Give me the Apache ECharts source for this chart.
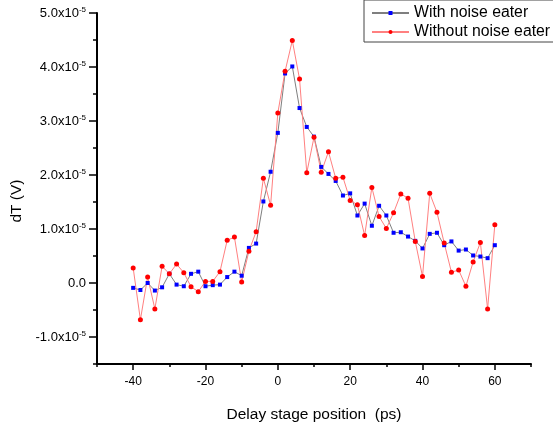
<!DOCTYPE html>
<html>
<head>
<meta charset="utf-8">
<script src="https://cdn.jsdelivr.net/npm/echarts@6/dist/echarts.min.js"></script>
<style>
html,body{margin:0;padding:0;background:#fff;}
#chart{width:553px;height:423px;}
</style>
</head>
<body>
<div id="chart"></div>
<script>
const delayPs = [-40,-38,-36,-34,-32,-30,-28,-26,-24,-22,-20,-18,-16,-14,-12,-10,-8,-6,-4,-2,0,2,4,6,8,10,12,14,16,18,20,22,24,26,28,30,32,34,36,38,40,42,44,46,48,50,52,54,56,58,60];
const withNoiseEater = [-0.09e-5,-0.13e-5,0.00e-5,-0.14e-5,-0.08e-5,0.17e-5,-0.03e-5,-0.06e-5,0.17e-5,0.21e-5,-0.06e-5,-0.04e-5,-0.03e-5,0.11e-5,0.21e-5,0.135e-5,0.65e-5,0.73e-5,1.51e-5,2.06e-5,2.78e-5,3.88e-5,4.01e-5,3.24e-5,2.89e-5,2.71e-5,2.15e-5,2.02e-5,1.89e-5,1.62e-5,1.66e-5,1.25e-5,1.47e-5,1.06e-5,1.43e-5,1.25e-5,0.93e-5,0.94e-5,0.86e-5,0.78e-5,0.64e-5,0.91e-5,0.93e-5,0.70e-5,0.77e-5,0.60e-5,0.62e-5,0.51e-5,0.49e-5,0.46e-5,0.70e-5];
const withoutNoiseEater = [0.28e-5,-0.68e-5,0.11e-5,-0.48e-5,0.31e-5,0.17e-5,0.35e-5,0.19e-5,-0.07e-5,-0.16e-5,0.03e-5,0.03e-5,0.21e-5,0.79e-5,0.85e-5,0.02e-5,0.59e-5,0.95e-5,1.94e-5,1.44e-5,3.15e-5,3.92e-5,4.49e-5,3.78e-5,2.04e-5,2.70e-5,2.05e-5,2.43e-5,1.94e-5,1.96e-5,1.53e-5,1.45e-5,0.88e-5,1.77e-5,1.23e-5,1.01e-5,1.30e-5,1.65e-5,1.57e-5,0.77e-5,0.12e-5,1.66e-5,1.31e-5,0.74e-5,0.20e-5,0.24e-5,-0.06e-5,0.39e-5,0.75e-5,-0.48e-5,1.08e-5];
const xTickLabels = [-40,-20,0,20,40,60];
const yTickLabels = [-1e-5,0,1e-5,2e-5,3e-5,4e-5,5e-5];
const seriesNames = ['With noise eater','Without noise eater'];

const FONT = 'Liberation Sans, Arial, sans-serif';
const chart = echarts.init(document.getElementById('chart'), null, {renderer:'canvas'});

function pairs(xs, ys){ return xs.map((x,i)=>[x, ys[i]]); }

function yFmt(v){
  const n = Math.round(v/1e-6)/10;
  if (Math.abs(n) < 1e-9) return '{a|0.0}';
  return '{a|' + n.toFixed(1) + 'x10}{s|-5}';
}

const axisLineStyle = {color:'#000', width:2};
const tickStyle = {color:'#000', width:1.5};

chart.setOption({
  animation:false,
  backgroundColor:'#fff',
  grid:{left:97, right:22, top:13, bottom:59, containLabel:false, outerBoundsMode:'none'},
  legend:{
    orient:'vertical', left:364, top:0,
    padding:[5,20,2,7], itemGap:3,
    itemWidth:37, itemHeight:5,
    borderColor:'#444', borderWidth:1,
    textStyle:{fontFamily:FONT, fontSize:15.8, color:'#000'},
    data:seriesNames
  },
  xAxis:[
    {type:'value', min:-50, max:70, interval:10, position:'bottom',
     axisLine:{onZero:false, lineStyle:axisLineStyle},
     axisTick:{length:3, lineStyle:tickStyle},
     axisLabel:{show:false}, splitLine:{show:false},
     name:'Delay stage position  (ps)', nameLocation:'middle', nameGap:43,
     nameTextStyle:{fontFamily:FONT, fontSize:15.5, color:'#000'}},
    {type:'value', min:-50, max:70, position:'bottom',
     axisLine:{show:false, onZero:false},
     axisTick:{length:6, customValues:xTickLabels, lineStyle:tickStyle},
     axisLabel:{customValues:xTickLabels, fontFamily:FONT, fontSize:12, color:'#000', margin:12},
     splitLine:{show:false}}
  ],
  yAxis:[
    {type:'value', min:-1.5e-5, max:5e-5, interval:0.5e-5, position:'left',
     axisLine:{show:true, onZero:false, lineStyle:axisLineStyle},
     axisTick:{show:true, length:4, lineStyle:tickStyle},
     axisLabel:{show:false}, splitLine:{show:false}},
    {type:'value', min:-1.5e-5, max:5e-5, position:'left',
     axisLine:{show:false, onZero:false},
     axisTick:{show:true, length:8, customValues:yTickLabels, lineStyle:tickStyle},
     axisLabel:{customValues:yTickLabels, margin:11, formatter:yFmt,
       rich:{a:{fontFamily:FONT, fontSize:13, color:'#000'},
             s:{fontFamily:FONT, fontSize:8, color:'#000', verticalAlign:'top', padding:[0,0,6,0]}}},
     splitLine:{show:false}}
  ],
  graphic:[
    {type:'text', x:17, y:201, rotation:Math.PI/2,
     style:{text:'dT (V)', fontFamily:FONT, fontSize:15.5, fill:'#000', align:'center', verticalAlign:'middle'}}
  ],
  series:[
    {name:seriesNames[0], type:'line', xAxisIndex:0, yAxisIndex:0,
     data:pairs(delayPs, withNoiseEater),
     symbol:'rect', symbolSize:4, showSymbol:true,
     lineStyle:{color:'#7f7f7f', width:1},
     itemStyle:{color:'#0000ff'}},
    {name:seriesNames[1], type:'line', xAxisIndex:0, yAxisIndex:0,
     data:pairs(delayPs, withoutNoiseEater),
     symbol:'circle', symbolSize:5, showSymbol:true,
     lineStyle:{color:'#ff8080', width:1},
     itemStyle:{color:'#ff0000'}}
  ]
});
</script>
</body>
</html>
